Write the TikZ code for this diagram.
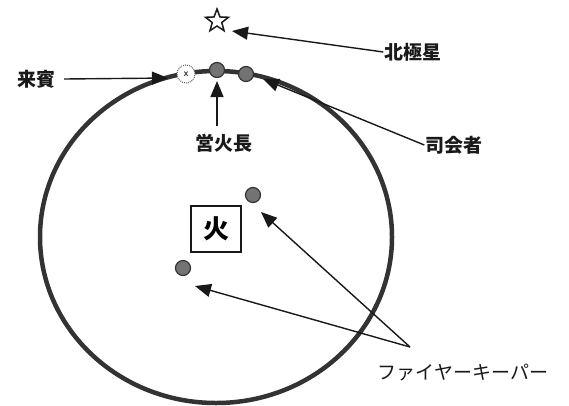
\documentclass[tikz,border=0pt]{standalone}
\usepackage{fontspec}
\newfontfamily\jp{Noto Sans CJK JP}
\usetikzlibrary{arrows.meta,shapes.geometric}
\begin{document}
\begin{tikzpicture}[x=1pt,y=-1pt,
  ring/.style={draw=black!80,line width=4.5pt},
  person/.style={circle,fill=black!55,draw=black!80,line width=1.2pt,minimum size=15pt,inner sep=0pt},
  guest/.style={circle,fill=white,draw=black!60,densely dotted,line width=1pt,minimum size=18pt,inner sep=0pt},
  lab/.style={font=\jp\bfseries\fontsize{19}{19}\selectfont,text=black!90,inner sep=1pt},
  kata/.style={font=\jp\fontsize{19}{19}\selectfont,text=black!90,inner sep=1pt},
  pointer/.style={draw=black!90,line width=1.4pt,-{Triangle[length=16pt,width=13pt]}}]
\useasboundingbox (0,0) rectangle (569,405);
% ring
\draw[ring] (216,237) ellipse [x radius=176, y radius=166];
% people on ring
\node[guest] (g) at (186,74) {};
\node[font=\sffamily\bfseries,text=black!80] at (g) {x};
\node[person] (chief) at (217,70) {};
\node[person] (mc) at (246,74) {};
% star
\node[star,star points=5,star point ratio=2.4,draw=black!90,fill=white,line width=1.5pt,
      minimum size=24pt,inner sep=0pt] (star) at (217,21) {};
% fire box
\node[draw=black!90,line width=2.5pt,minimum width=50pt,minimum height=46pt,inner sep=0pt,
      font=\jp\bfseries\fontsize{26}{26}\selectfont] (fire) at (216,229) {火};
% fire keepers
\node[person] (k1) at (253,195) {};
\node[person] (k2) at (183,268) {};
% labels
\node[lab] (raihin) at (36,79) {来賓};
\node[lab] (hoku) at (413,52) {北極星};
\node[lab] (shikai) at (454,145) {司会者};
\node[lab] (eika) at (224,143) {営火長};
\node[kata] (fk) at (463,373) {ファイヤーキーパー};
\coordinate (fkj) at (410,347);
% arrows
\draw[pointer] (raihin.east) ++(8,0) -- (168,78);
\draw[pointer] (hoku.west) -- (232,31);
\draw[pointer] (shikai.west) -- (263,79);
\draw[pointer] (eika.north) ++(-7,-7) -- (217,81);
\draw[pointer] (fkj) -- (261,212);
\draw[pointer] (fkj) -- (195,286);
\end{tikzpicture}
\end{document}
